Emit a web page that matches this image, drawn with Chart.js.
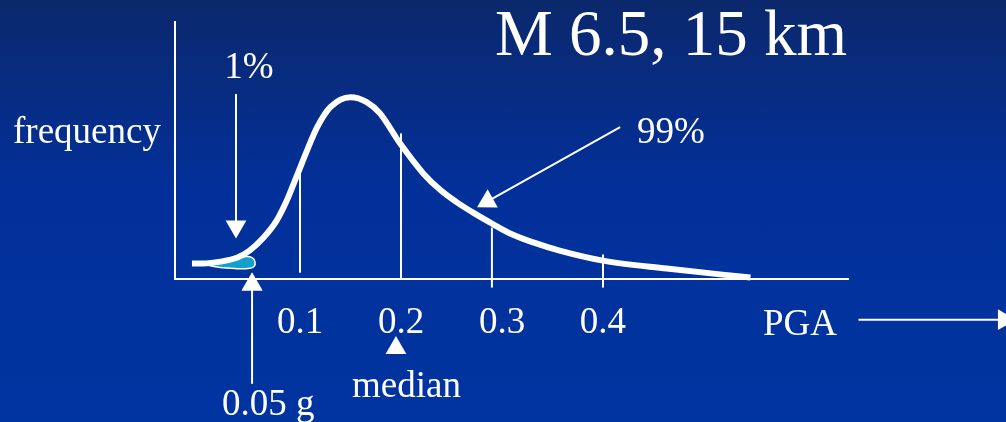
<!DOCTYPE html>
<html lang="en">

<head>
    <meta charset="UTF-8">
    <title>PGA frequency</title>
    <script src="https://cdn.jsdelivr.net/npm/chart.js@4.4.1/dist/chart.umd.min.js"></script>
    <style>
        body {
            margin: 0;
            width: 1006px;
            height: 422px;
            overflow: hidden;
            background: linear-gradient(#0b286c 0%, #02309a 45%, #0034a0 100%);
        }
    </style>
</head>

<body>
    <canvas id="chart" width="1006" height="422"></canvas>

    <script type="text/javascript">

        // PGA (g) vs relative frequency
        const pgaValues = [-0.007, 0.004, 0.021, 0.038, 0.050, 0.063, 0.077, 0.087, 0.097, 0.107, 0.117, 0.130,
            0.150, 0.166, 0.179, 0.199, 0.222, 0.239, 0.255, 0.271, 0.288, 0.308, 0.331, 0.357, 0.400, 0.463, 0.546];
        const freqValues = [0.059, 0.059, 0.066, 0.082, 0.109, 0.156, 0.227, 0.305, 0.402, 0.500, 0.590, 0.668,
            0.707, 0.688, 0.645, 0.527, 0.410, 0.345, 0.298, 0.258, 0.219, 0.176, 0.141, 0.109, 0.070, 0.039, 0.004];

        // shaded 1% tail (closed outline)
        const tailX = [0.006, 0.021, 0.0356, 0.0465, 0.0525, 0.0554, 0.0545, 0.0485, 0.0356, 0.021, 0.006, 0.006];
        const tailY = [0.0586, 0.0664, 0.078, 0.086, 0.082, 0.0664, 0.047, 0.039, 0.039, 0.043, 0.0547, 0.0586];

        // thin vertical markers
        const markerX = [0.1, 0.2, 0.29, 0.4];
        const markerTop = [0.434, 0.566, 0.199, 0.094];
        const markerBottom = [0.023, 0, -0.035, -0.035];

        const tickValues = [0.1, 0.2, 0.3, 0.4];

        // annotation arrows: [x1, y1, x2, y2] in data units, head at the second point
        const arrows = [
            [0.0366, 0.719, 0.0366, 0.203],   // 1%
            [0.0525, -0.41, 0.0525, -0.023],  // 0.05 g
            [0.417, 0.590, 0.2856, 0.301],    // 99%
            [0.653, -0.160, 0.797, -0.160]    // PGA
        ];
        const medianX = 0.195;
        const medianY = -0.270;

        const serif = "'Liberation Serif', 'Times New Roman', serif";
        Chart.defaults.font.family = serif;
        Chart.defaults.color = '#ffffff';

        function headRotation(ctx) {
            const d = ctx.dataset.data;
            const i = ctx.dataIndex;
            if (i === 0) return 0;
            const s = ctx.chart.scales;
            const dx = s.x.getPixelForValue(d[i].x) - s.x.getPixelForValue(d[i - 1].x);
            const dy = s.y.getPixelForValue(d[i].y) - s.y.getPixelForValue(d[i - 1].y);
            return Math.atan2(dx, -dy) * 180 / Math.PI;
        }

        const datasets = [];

        datasets.push({
            data: pgaValues.map((x, i) => ({ x: x, y: freqValues[i] })),
            borderColor: '#ffffff',
            borderWidth: 6,
            cubicInterpolationMode: 'monotone',
            pointRadius: 0,
            fill: false,
            order: 1,
            clip: false
        });

        datasets.push({
            data: tailX.map((x, i) => ({ x: x, y: tailY[i] })),
            borderColor: '#ffffff',
            borderWidth: 1.5,
            backgroundColor: '#129fc9',
            tension: 0.3,
            pointRadius: 0,
            fill: 'shape',
            order: 2,
            clip: false
        });

        markerX.forEach((x, i) => {
            datasets.push({
                data: [{ x: x, y: markerBottom[i] }, { x: x, y: markerTop[i] }],
                borderColor: '#ffffff',
                borderWidth: 2,
                pointRadius: 0,
                fill: false,
                order: 3,
                clip: false
            });
        });

        arrows.forEach(a => {
            datasets.push({
                data: [{ x: a[0], y: a[1] }, { x: a[2], y: a[3] }],
                borderColor: '#ffffff',
                borderWidth: 2,
                pointRadius: [0, 12],
                pointStyle: 'triangle',
                pointRotation: headRotation,
                pointBackgroundColor: '#ffffff',
                pointBorderWidth: 0,
                fill: false,
                order: 3,
                clip: false
            });
        });

        datasets.push({
            data: [{ x: medianX, y: medianY }],
            showLine: false,
            pointRadius: 12,
            pointStyle: 'triangle',
            pointBackgroundColor: '#ffffff',
            pointBorderWidth: 0,
            order: 3,
            clip: false
        });

        // Chart.js skips points outside the chart area; draw those heads anyway
        const outsidePoints = {
            id: 'outsidePoints',
            afterDatasetsDraw(chart) {
                const a = chart.chartArea;
                const c = chart.ctx;
                chart.getSortedVisibleDatasetMetas().forEach(meta => {
                    meta.data.forEach(el => {
                        const o = el.options;
                        if (!o || o.radius < 0.1) return;
                        if (el.x >= a.left && el.x <= a.right && el.y >= a.top && el.y <= a.bottom) return;
                        c.save();
                        c.fillStyle = o.backgroundColor;
                        c.strokeStyle = o.borderColor;
                        c.lineWidth = o.borderWidth;
                        Chart.helpers.drawPoint(c, o, el.x, el.y);
                        c.restore();
                    });
                });
            }
        };

        // free text labels of the slide
        const textPlugin = {
            id: 'slideText',
            afterDraw(chart) {
                const c = chart.ctx;
                c.save();
                c.fillStyle = '#ffffff';
                c.textBaseline = 'alphabetic';
                c.font = '65px ' + serif;
                c.textAlign = 'left';
                c.fillText('M 6.5, 15 km', 495, 55);
                c.font = '37px ' + serif;
                c.fillText('frequency', 13, 143);
                c.fillText('99%', 637, 143);
                c.fillText('0.05 g', 222, 415);
                c.fillText('median', 352, 397);
                c.fillText('PGA', 763, 335);
                c.textAlign = 'center';
                c.fillText('1%', 249, 78);
                c.restore();
            }
        };

        const ctx = document.getElementById('chart').getContext('2d');
        const myChart = new Chart(ctx, {
            type: 'line',
            data: { datasets: datasets },
            options: {
                responsive: false,
                animation: false,
                events: [],
                layout: { padding: { left: 175, top: 22, right: 158, bottom: 55 } },
                plugins: {
                    legend: { display: false },
                    tooltip: { enabled: false }
                },
                scales: {
                    x: {
                        type: 'linear',
                        min: -0.0238,
                        max: 0.6426,
                        grid: { display: false, drawTicks: false },
                        border: { display: true, color: '#ffffff', width: 2 },
                        afterBuildTicks: axis => {
                            axis.ticks = tickValues.map(v => ({ value: v }));
                        },
                        ticks: {
                            autoSkip: false,
                            maxRotation: 0,
                            padding: 22,
                            color: '#ffffff',
                            font: { size: 37 },
                            callback: v => v.toFixed(1)
                        }
                    },
                    y: {
                        min: 0,
                        max: 1,
                        grid: { display: false, drawTicks: false },
                        border: { display: true, color: '#ffffff', width: 2 },
                        ticks: { display: false }
                    }
                }
            },
            plugins: [outsidePoints, textPlugin]
        });

    </script>

</body>

</html>
